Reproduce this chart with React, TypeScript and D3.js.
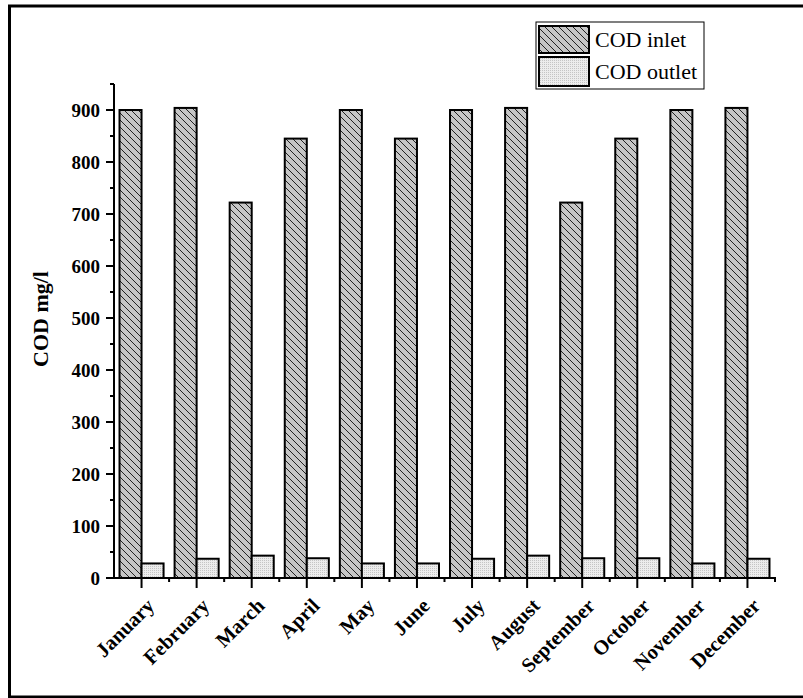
import React from "react";
import * as d3 from "d3";

// monthly COD values (mg/l)
const months = [
  "January", "February", "March", "April", "May", "June",
  "July", "August", "September", "October", "November", "December",
];
const codInlet = [900, 904, 722, 845, 900, 845, 900, 904, 722, 845, 900, 904];
const codOutlet = [28, 37, 43, 38, 28, 28, 37, 43, 38, 38, 28, 37];
const yTicks = [0, 100, 200, 300, 400, 500, 600, 700, 800, 900];
const yMinorTicks = [50, 150, 250, 350, 450, 550, 650, 750, 850, 950];

const serif = "'Liberation Serif', 'Times New Roman', serif";

const App: React.FC = () => {
  const width = 803,
    height = 698;

  const x = d3.scaleBand<string>().domain(months).range([114, 775]).padding(0);
  const y = d3.scaleLinear().domain([0, 950]).range([578, 84]);
  const barW = x.bandwidth() * 0.4;
  const y0 = y(0);

  // band edges for minor ticks on x axis
  const edges = months.map((m) => x(m)!).concat([x.range()[1]]);

  return (
    <svg
      width={width}
      height={height}
      style={{ position: "absolute", left: 0, top: 0, background: "#fff" }}
    >
      <defs>
        <pattern id="hatch" width="7" height="7" patternUnits="userSpaceOnUse">
          <rect width="7" height="7" fill="#c6c6c6" />
          <path d="M-1,-1 L8,8 M-1,6 L1,8 M6,-1 L8,1" stroke="#222" strokeWidth="1" />
        </pattern>
        <pattern id="dots" width="2" height="2" patternUnits="userSpaceOnUse">
          <rect width="2" height="2" fill="#ececec" />
          <rect width="1" height="1" fill="#c4c4c4" />
        </pattern>
      </defs>

      {/* outer frame */}
      <rect x={9.5} y={6} width={820} height={691} fill="none" stroke="#000" strokeWidth={3} />

      {/* bars */}
      {months.map((m, i) => {
        const cx = x(m)! + x.bandwidth() / 2;
        return (
          <g key={m}>
            <rect
              x={cx - barW}
              y={y(codInlet[i])}
              width={barW}
              height={y0 - y(codInlet[i])}
              fill="url(#hatch)"
              stroke="#000"
              strokeWidth={2}
            />
            <rect
              x={cx}
              y={y(codOutlet[i])}
              width={barW}
              height={y0 - y(codOutlet[i])}
              fill="url(#dots)"
              stroke="#000"
              strokeWidth={2}
            />
          </g>
        );
      })}

      {/* y axis */}
      <line x1={114} x2={114} y1={y(950)} y2={y0} stroke="#000" strokeWidth={2} />
      {yTicks.map((t) => (
        <g key={t}>
          <line x1={106} x2={114} y1={y(t)} y2={y(t)} stroke="#000" strokeWidth={2} />
          <text
            x={100}
            y={y(t)}
            dy="0.35em"
            textAnchor="end"
            fontFamily={serif}
            fontWeight="bold"
            fontSize={19}
          >
            {t}
          </text>
        </g>
      ))}
      {yMinorTicks.map((t) => (
        <line key={t} x1={110} x2={114} y1={y(t)} y2={y(t)} stroke="#000" strokeWidth={2} />
      ))}
      <text
        transform={`translate(48,${(y(0) + y(950)) / 2 - 12}) rotate(-90)`}
        textAnchor="middle"
        fontFamily={serif}
        fontWeight="bold"
        fontSize={22}
      >
        COD mg/l
      </text>

      {/* x axis */}
      <line x1={113} x2={776} y1={y0} y2={y0} stroke="#000" strokeWidth={2} />
      {edges.slice(1).map((e, i) => (
        <line key={i} x1={e} x2={e} y1={y0} y2={y0 + 4} stroke="#000" strokeWidth={2} />
      ))}
      {months.map((m) => {
        const cx = x(m)! + x.bandwidth() / 2;
        return (
          <g key={m}>
            <line x1={cx} x2={cx} y1={y0} y2={y0 + 10} stroke="#000" strokeWidth={2} />
            <text
              transform={`translate(${cx + 14},${y0 + 29}) rotate(-45)`}
              textAnchor="end"
              fontFamily={serif}
              fontWeight="bold"
              fontSize={20.5}
            >
              {m}
            </text>
          </g>
        );
      })}

      {/* legend */}
      <rect x={536} y={22} width={168} height={67} fill="#fff" stroke="#000" strokeWidth={1} />
      <rect x={539} y={26} width={50} height={27} fill="url(#hatch)" stroke="#000" strokeWidth={2} />
      <rect x={539} y={57} width={50} height={29} fill="url(#dots)" stroke="#000" strokeWidth={2} />
      <text x={595} y={47} fontFamily={serif} fontSize={22}>
        COD inlet
      </text>
      <text x={595} y={79} fontFamily={serif} fontSize={22}>
        COD outlet
      </text>
    </svg>
  );
};

export default App;
